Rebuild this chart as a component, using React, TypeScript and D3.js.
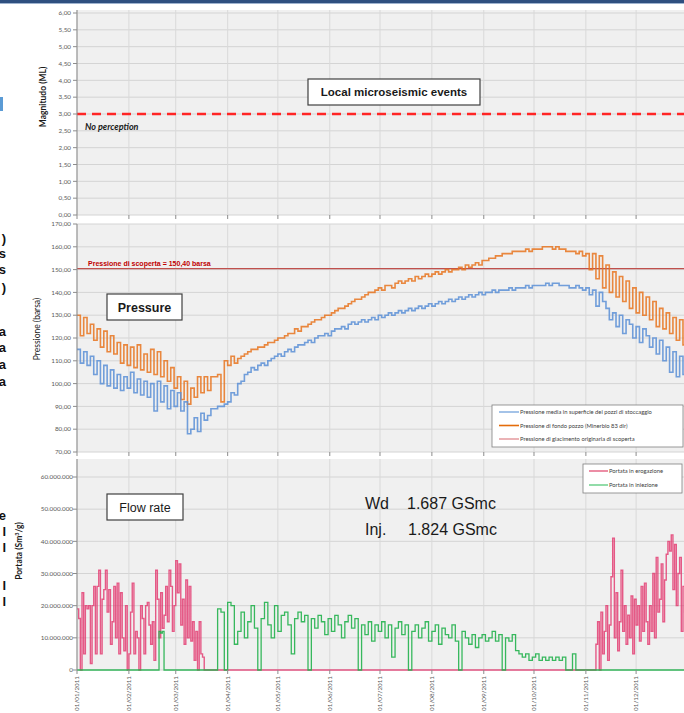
import React from "react";
import * as d3 from "d3";

// month boundaries shown on the x axis
const monthTicks = [
  "2011-01-01", "2011-02-01", "2011-03-01", "2011-04-01", "2011-05-01", "2011-06-01",
  "2011-07-01", "2011-08-01", "2011-09-01", "2011-10-01", "2011-11-01", "2011-12-01", "2012-01-01",
];

const magTicks = [0, 0.5, 1, 1.5, 2, 2.5, 3, 3.5, 4, 4.5, 5, 5.5, 6];
const pressTicks = [70, 80, 90, 100, 110, 120, 130, 140, 150, 160, 170];
const flowTicks = [0, 10e6, 20e6, 30e6, 40e6, 50e6, 60e6];

const perceptionThreshold = 3;
const discoveryPressure = 150.4;

// pressures, one value every 2 days from 01/01/2011
const bottomHolePressure = [
  130, 121, 129, 122, 126, 119, 124, 116, 123, 114, 121, 113,
  118, 109, 117, 108, 116, 107, 117, 106, 113, 105, 115,
  104, 114, 103, 110, 101, 107, 98,
  103, 93, 101, 91, 98, 94, 103, 96, 103,
  97, 103, 103, 104, 92, 110,
  108, 112, 109, 111, 112, 113, 114, 115,
  115, 116, 116, 117, 118,
  118, 119, 120, 120, 121,
  122, 122, 124, 123, 125,
  125, 126, 127, 128, 128,
  129, 130, 130, 131, 132,
  133, 133, 134, 135, 136,
  137, 137, 138, 139, 140,
  140, 141, 142, 141, 143,
  143, 142, 144, 145, 144,
  145, 146, 145, 147, 146,
  147, 148, 147, 148, 149,
  148, 149, 150, 149, 150,
  150, 151, 150, 152, 151,
  152, 153, 152, 154, 154,
  155, 155, 156, 156, 157,
  157, 157, 158, 158, 158,
  158, 159, 158, 159, 159,
  159, 160, 160, 160, 159,
  160, 159, 159, 158, 158,
  158, 157, 158, 156,
  157, 150, 157, 146, 156, 142, 152, 140, 149, 138, 147, 136, 145, 133, 142, 131,
  140, 130, 138, 128, 136, 125, 133, 124, 131, 122, 129, 119, 128, 117, 124,
];

const surfacePressure = [
  115, 109, 114, 108, 112, 104, 110, 100, 108, 99, 106, 98,
  104, 97, 103, 98, 105, 96, 102, 95, 101, 94, 100,
  88, 101, 92, 99, 89, 97, 90,
  96, 88, 92, 78, 80, 85, 79, 87, 84,
  86, 89, 89, 90, 90, 91,
  92, 96, 95, 100, 101, 104, 105, 107,
  106, 108, 109, 108, 110,
  111, 112, 113, 112, 114,
  115, 114, 116, 117, 117,
  118, 119, 118, 120, 121,
  121, 122, 121, 123, 124,
  124, 125, 124, 126, 127,
  126, 127, 128, 127, 128,
  129, 128, 130, 129, 130,
  131, 130, 131, 132, 131,
  132, 133, 132, 133, 134,
  133, 134, 135, 134, 135,
  136, 135, 136, 137, 136,
  137, 138, 137, 138, 139,
  138, 139, 140, 139, 140,
  140, 141, 140, 141, 141,
  141, 142, 141, 142, 142,
  142, 143, 142, 143, 143,
  143, 143, 144, 143, 144,
  144, 143, 143, 143, 142,
  142, 143, 142, 141,
  142, 139, 141, 134, 140, 136, 133, 128, 131, 125, 130, 122, 128, 126, 120, 125,
  118, 124, 121, 116, 120, 113, 119, 110, 116, 105, 114, 103, 112, 104, 110,
];

// withdrawal (millions Sm3/g), daily from 01/01 and from 07/11
const withdrawalWinter = [
  19, 16, 0, 24, 5, 20, 19, 20, 2, 20,
  26, 5, 26, 31, 5, 22, 25, 31, 18, 25,
  8, 15, 26, 10, 27, 5, 24, 10, 6, 20,
  0, 5, 18, 27, 5, 12, 10, 0, 20, 16,
  5, 20, 21, 14, 8, 15, 3, 31, 22, 10,
  24, 13, 17, 26, 15, 31, 26, 12, 20, 34,
  24, 33, 14, 22, 8, 28, 10, 26, 9, 15,
  3, 12, 0, 15, 5, 4,
];
const withdrawalAutumn = [
  8, 15, 0, 18, 5, 12, 20, 3, 14, 29,
  41, 10, 24, 6, 15, 31, 12, 20, 8, 17,
  10, 23, 5, 22, 14, 20, 9, 26, 12, 27,
  15, 8, 20, 12, 30, 10, 35, 18, 22, 33,
  15, 28, 36, 40, 37, 42, 25, 39, 20, 30,
  35, 12, 26, 18, 20,
];
const autumnStartDay = 310;

// injection (millions Sm3/g): short blip in February, then every 2 days from day 82
const injectionFeb = [12, 11.5, 12];
const injectionFebStartDay = 49;
const injectionSummer = [
  0, 19, 18, 0, 21, 20, 8, 12, 18, 10,
  15, 20, 13, 0, 16, 21, 14, 10, 20, 12,
  17, 18, 14, 5, 16, 18, 15, 17, 0, 16,
  13, 17, 15, 11, 16, 12, 17, 14, 10, 15,
  17, 13, 16, 0, 14, 11, 15, 9, 14, 12,
  15, 10, 14, 4, 13, 15, 11, 14, 0, 12,
  14, 10, 13, 15, 9, 12, 14, 8, 13, 11,
  10, 14, 9, 0, 12, 10, 8, 11, 7, 10,
  11, 9, 10, 12, 9, 11, 0, 10, 9, 11,
  6, 5, 4, 5, 3, 4, 5, 3, 4, 3,
  4, 3, 4, 3, 4, 0, 0, 5, 0,
];
const injectionSummerStartDay = 82;

const pressLegend = [
  { label: "Pressione media in superficie dei pozzi di stoccaggio", color: "#8db4e2" },
  { label: "Pressione di fondo pozzo (Minerbio 83 dir)", color: "#e46c0a" },
  { label: "Pressione di giacimento originaria di scoperta", color: "#e6a0a4" },
];
const flowLegend = [
  { label: "Portata in erogazione", color: "#e8708f" },
  { label: "Portata in iniezione", color: "#77d394" },
];

// fragments of the slide text that is cut off at the left edge
const edgeFragments = [
  { y: 243, ch: ")" }, { y: 258, ch: "s" }, { y: 274, ch: "s" }, { y: 292, ch: ")" },
  { y: 336, ch: "a" }, { y: 352, ch: "a" }, { y: 369, ch: "a" }, { y: 386, ch: "a" },
  { y: 520, ch: "e" }, { y: 536, ch: "l" }, { y: 552, ch: "l" }, { y: 590, ch: "l" }, { y: 606, ch: "l" },
];

const FONT = "Lato, 'Open Sans', sans-serif";
const ARIAL = "'Liberation Sans', Arial, sans-serif";
const start = new Date(2011, 0, 1);
const dayDate = (d: number) => d3.timeDay.offset(start, d);

const x = d3.scaleTime().domain([start, new Date(2012, 0, 1)]).range([77, 688]);
const yMag = d3.scaleLinear().domain([0, 6]).range([215, 13]);
const yPress = d3.scaleLinear().domain([70, 170]).range([452, 224]);
const yFlow = d3.scaleLinear().domain([0, 60e6]).range([670, 477]);

type Pt = [number, number];

function dailyYear(segs: { start: number; step: number; vals: number[] }[]): Pt[] {
  const v = new Array(366).fill(0);
  segs.forEach(s => s.vals.forEach((val, i) => {
    for (let k = 0; k < s.step; k++) v[s.start + i * s.step + k] = val * 1e6;
  }));
  return v.map((val, d) => [d, val] as Pt);
}

const withdrawal = dailyYear([
  { start: 0, step: 1, vals: withdrawalWinter },
  { start: autumnStartDay, step: 1, vals: withdrawalAutumn },
]);
const injection = dailyYear([
  { start: injectionFebStartDay, step: 1, vals: injectionFeb },
  { start: injectionSummerStartDay, step: 2, vals: injectionSummer },
]);
const every2 = (arr: number[]): Pt[] => arr.map((v, i) => [i * 2, v] as Pt);

const lineFor = (y: d3.ScaleLinear<number, number>) =>
  d3.line<Pt>().x(p => x(dayDate(p[0]))).y(p => y(p[1])).curve(d3.curveStepAfter);

const fmtDec = (v: number) => v.toFixed(2).replace(".", ",");
const fmtThousands = (v: number) => (v === 0 ? "0" : d3.format(",")(v).replace(/,/g, "."));
const fmtDate = d3.timeFormat("%d/%m/%Y");

const X0 = 77;
const X1 = 688;

function Panel(props: {
  top: number; bottom: number; y: d3.ScaleLinear<number, number>; ticks: number[];
  fmt: (v: number) => string; labelX: number; children?: React.ReactNode;
}) {
  const { top, bottom, y, ticks, fmt, labelX } = props;
  const months = monthTicks.map(s => x(new Date(s + "T00:00:00")));
  return (
    <g>
      <rect x={X0} y={top} width={X1 - X0} height={bottom - top} fill="#f0f0f0" />
      {ticks.map(t => (
        <line key={t} x1={X0} x2={X1} y1={y(t)} y2={y(t)} stroke="#d4d4d4" strokeWidth={1} />
      ))}
      {months.map((m, i) => (
        <line key={i} x1={m} x2={m} y1={top} y2={bottom} stroke="#d9d9d9" strokeWidth={1} />
      ))}
      {props.children}
      <line x1={X0} x2={X0} y1={top} y2={bottom} stroke="#8c8c8c" />
      {ticks.map(t => (
        <g key={"t" + t}>
          <line x1={X0 - 4} x2={X0} y1={y(t)} y2={y(t)} stroke="#8c8c8c" />
          <text x={labelX} y={y(t) + 2.2} textAnchor="end" fontSize={6.3} fill="#595959" fontFamily={FONT}>
            {fmt(t)}
          </text>
        </g>
      ))}
      {months.map((m, i) => (
        <line key={"m" + i} x1={m} x2={m} y1={bottom} y2={bottom + 4} stroke="#8c8c8c" />
      ))}
    </g>
  );
}

function Label(props: { x: number; y: number; w: number; h: number; text: string; size: number; weight?: string }) {
  return (
    <g>
      <rect x={props.x} y={props.y} width={props.w} height={props.h} fill="#fff" stroke="#404040" strokeWidth={1.2} />
      <text x={props.x + props.w / 2} y={props.y + props.h / 2 + props.size * 0.36} textAnchor="middle"
        fontSize={props.size} fontWeight={props.weight || "normal"} fontFamily={ARIAL} fill="#1a1a1a">
        {props.text}
      </text>
    </g>
  );
}

export default function App() {
  const pressLine = lineFor(yPress);
  const flowLine = lineFor(yFlow);
  const months = monthTicks.map(s => new Date(s + "T00:00:00"));

  return (
    <svg width={684} height={713} style={{ position: "absolute", left: 0, top: 0, background: "#fff" }}>
      <rect x={0} y={0} width={684} height={3} fill="#2f4f7f" />
      <rect x={0} y={3} width={684} height={1} fill="#9fb3cf" />
      <rect x={0} y={97} width={3} height={14} fill="#5b9bd5" />
      {edgeFragments.map((f, i) => (
        <text key={i} x={6} y={f.y} textAnchor="end" fontSize={13} fontWeight="bold" fontFamily={ARIAL} fill="#111">
          {f.ch}
        </text>
      ))}

      {/* magnitude panel */}
      <Panel top={10} bottom={215} y={yMag} ticks={magTicks} fmt={fmtDec} labelX={71}>
        <line x1={X0} x2={X1} y1={yMag(perceptionThreshold)} y2={yMag(perceptionThreshold)}
          stroke="#ff2525" strokeWidth={2.4} strokeDasharray="9,6" />
        <text x={85} y={130} fontSize={9} fontStyle="italic" fontWeight="bold" fontFamily={FONT} fill="#1a1a1a">
          No perception
        </text>
        <Label x={308} y={79} w={172} h={26} text="Local microseismic events" size={11.5} weight="bold" />
      </Panel>
      <text transform="translate(46,97) rotate(-90)" textAnchor="middle" fontSize={8.5} fontWeight="bold"
        fontFamily={FONT} fill="#1a1a1a">Magnitudo (ML)</text>

      {/* pressure panel */}
      <Panel top={224} bottom={452} y={yPress} ticks={pressTicks} fmt={fmtDec} labelX={71}>
        <line x1={X0} x2={X1} y1={yPress(discoveryPressure)} y2={yPress(discoveryPressure)}
          stroke="#c0504d" strokeWidth={1.3} />
        <text x={88} y={266} fontSize={7} fontWeight="bold" fontFamily={ARIAL} fill="#c00000">
          Pressione di scoperta = 150,40 barsa
        </text>
        <path d={pressLine(every2(bottomHolePressure)) || ""} fill="none" stroke="#e8741f" strokeWidth={1.6} strokeOpacity={0.85} />
        <path d={pressLine(every2(surfacePressure)) || ""} fill="none" stroke="#5b8fd6" strokeWidth={1.6} strokeOpacity={0.85} />
        <Label x={107} y={294} w={75} h={26} text="Pressure" size={12.5} weight="bold" />
        <rect x={492} y={405} width={191} height={42} fill="#fff" stroke="#7f7f7f" strokeWidth={0.8} />
        {pressLegend.map((l, i) => (
          <g key={l.label}>
            <line x1={499} x2={519} y1={412 + i * 13.5} y2={412 + i * 13.5} stroke={l.color} strokeWidth={1.6} />
            <text x={520} y={414.2 + i * 13.5} fontSize={5.8} fontFamily={FONT} fill="#404040">{l.label}</text>
          </g>
        ))}
      </Panel>
      <text transform="translate(40,329) rotate(-90)" textAnchor="middle" fontSize={8.5}
        fontFamily={FONT} fill="#1a1a1a">Pressione (barsa)</text>

      {/* flow panel */}
      <Panel top={459} bottom={670} y={yFlow} ticks={flowTicks} fmt={fmtThousands} labelX={73}>
        <path d={flowLine(withdrawal) || ""} fill="none" stroke="#e2336b" strokeWidth={1.4} strokeOpacity={0.8} />
        <path d={flowLine(injection) || ""} fill="none" stroke="#22b14c" strokeWidth={1.3} strokeOpacity={0.9} />
        <Label x={107} y={494} w={76} h={26} text="Flow rate" size={12.5} />
        <rect x={583} y={464} width={99} height={29} fill="#fff" stroke="#7f7f7f" strokeWidth={0.8} />
        {flowLegend.map((l, i) => (
          <g key={l.label}>
            <line x1={589} x2={608} y1={471 + i * 14} y2={471 + i * 14} stroke={l.color} strokeWidth={1.6} />
            <text x={609} y={473.2 + i * 14} fontSize={5.8} fontFamily={FONT} fill="#404040">{l.label}</text>
          </g>
        ))}
        <text fontSize={16} fontFamily={ARIAL} fill="#1a1a1a">
          <tspan x={365} y={509}>Wd</tspan>
          <tspan x={407} y={509}>1.687 GSmc</tspan>
          <tspan x={365} y={535}>Inj.</tspan>
          <tspan x={408} y={535}>1.824 GSmc</tspan>
        </text>
      </Panel>
      <text transform="translate(22,551) rotate(-90)" textAnchor="middle" fontSize={8.5} fontWeight="bold"
        fontFamily={FONT} fill="#1a1a1a">
        Portata (Sm<tspan dy={-3} fontSize={5.5}>3</tspan><tspan dy={3}>/g)</tspan>
      </text>

      {months.map((m, i) => (
        <text key={i} transform={`translate(${x(m) + 2},676) rotate(-90)`} textAnchor="end" fontSize={6.3}
          fontFamily={FONT} fill="#595959">{fmtDate(m)}</text>
      ))}
    </svg>
  );
}
